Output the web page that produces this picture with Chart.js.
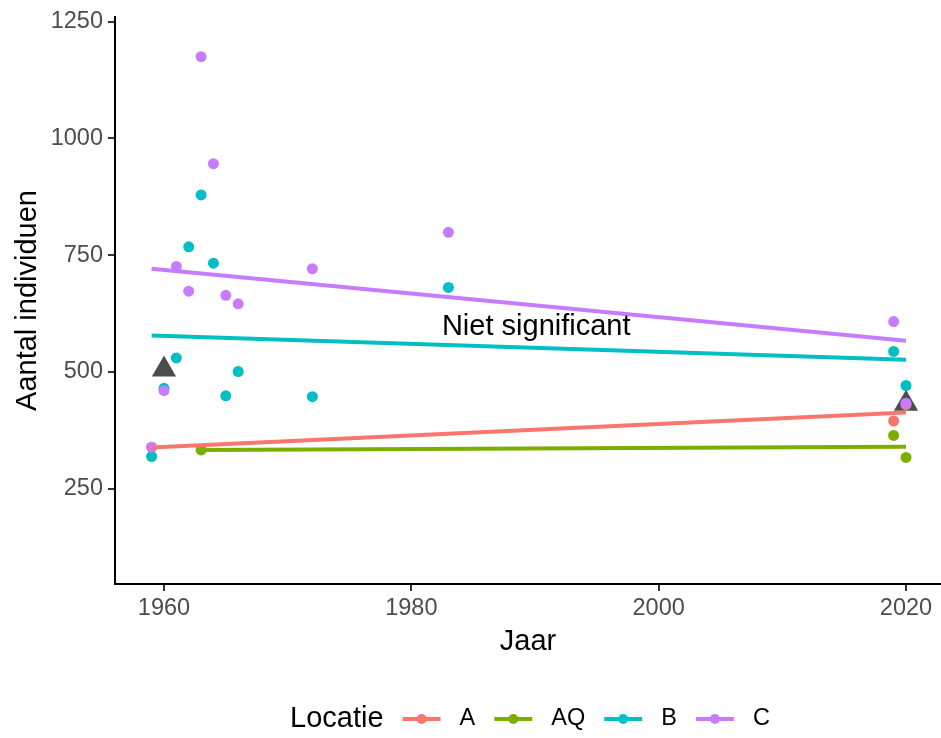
<!DOCTYPE html>
<html>
<head>
<meta charset="utf-8">
<script src="https://cdn.jsdelivr.net/npm/chart.js@4.4.1/dist/chart.umd.min.js"></script>
<style>
  html, body { margin: 0; padding: 0; background: #fff; overflow: hidden; }
  #wrap { width: 941px; height: 738px; position: relative; }
</style>
</head>
<body>
<div id="wrap"><canvas id="c"></canvas></div>
<script>
// Aantal individuen per locatie, 1959-2020, with linear trends per locatie.
const FONT = "'Liberation Sans', Arial, sans-serif";

const seriesNames = ["A", "AQ", "B", "C"];
const seriesColors = ["#F8766D", "#7CAE00", "#00BFC4", "#C77CFF"];

const yearsA = [1959, 2019, 2020];
const countsA = [339, 395, 430];
const yearsAQ = [1963, 2019, 2020];
const countsAQ = [333, 364, 317];
const yearsB = [1959, 1960, 1961, 1962, 1963, 1964, 1965, 1966, 1972, 1983, 2019, 2020];
const countsB = [319, 465, 530, 768, 879, 733, 449, 501, 447, 681, 544, 471];
const yearsC = [1959, 1960, 1961, 1962, 1963, 1964, 1965, 1966, 1972, 1983, 2019, 2020];
const countsC = [339, 460, 726, 673, 1175, 946, 664, 646, 721, 799, 608, 433];

// trend line ends (start, end)
const trendYears = [[1959, 2020], [1963, 2020], [1959, 2020], [1959, 2020]];
const trendValues = [[338, 413], [333, 340], [578, 526], [721, 567]];

// grey triangles
const meanYears = [1960, 2020];
const meanValues = [505, 432];

const xTicks = [1960, 1980, 2000, 2020];
const yTicks = [250, 500, 750, 1000, 1250];
const noteText = "Niet significant";
const noteYear = 1990.1;
const noteValue = 596;

const allYears = [yearsA, yearsAQ, yearsB, yearsC];
const allCounts = [countsA, countsAQ, countsB, countsC];
const pts = (xs, ys) => xs.map((x, i) => ({ x, y: ys[i] }));

const datasets = [];
datasets.push({
  label: "gemiddelde",
  data: pts(meanYears, meanValues),
  pointStyle: "triangle",
  pointRadius: 14,
  pointBackgroundColor: "#4D4D4D",
  pointBorderWidth: 0,
  order: 30,
  clip: false,
});
seriesNames.forEach((name, i) => {
  datasets.push({
    label: name,
    data: pts(allYears[i], allCounts[i]),
    pointRadius: 5.5,
    pointBackgroundColor: seriesColors[i],
    pointBorderWidth: 0,
    order: 20 - i,
    clip: false,
  });
  datasets.push({
    label: name + " trend",
    data: pts(trendYears[i], trendValues[i]),
    showLine: true,
    borderColor: seriesColors[i],
    borderWidth: 4,
    pointRadius: 0,
    order: 10 - i,
    clip: false,
  });
});

const notePlugin = {
  id: "note",
  afterDatasetsDraw(chart) {
    const { ctx, scales } = chart;
    ctx.save();
    ctx.font = `29px ${FONT}`;
    ctx.fillStyle = "#000";
    ctx.textAlign = "center";
    ctx.textBaseline = "middle";
    ctx.fillText(noteText, scales.x.getPixelForValue(noteYear), scales.y.getPixelForValue(noteValue));
    ctx.restore();
  },
};

// ggplot-style legend: title on the left, keys in one row
const legendPlugin = {
  id: "ggLegend",
  afterDraw(chart) {
    const { ctx } = chart;
    const yMid = 719;
    const keyW = 38, gap = 19;
    ctx.save();
    ctx.textBaseline = "middle";
    ctx.font = `29px ${FONT}`;
    const titleW = ctx.measureText("Locatie").width;
    ctx.font = `23.5px ${FONT}`;
    const labelWs = seriesNames.map((n) => ctx.measureText(n).width);
    let total = titleW;
    labelWs.forEach((w) => { total += gap + keyW + gap + w; });
    let x = 530 - total / 2;
    ctx.fillStyle = "#000";
    ctx.font = `29px ${FONT}`;
    ctx.fillText("Locatie", x, yMid);
    x += titleW;
    ctx.font = `23.5px ${FONT}`;
    seriesNames.forEach((n, i) => {
      x += gap;
      ctx.strokeStyle = seriesColors[i];
      ctx.lineWidth = 4;
      ctx.beginPath();
      ctx.moveTo(x, yMid);
      ctx.lineTo(x + keyW, yMid);
      ctx.stroke();
      ctx.fillStyle = seriesColors[i];
      ctx.beginPath();
      ctx.arc(x + keyW / 2, yMid, 5, 0, Math.PI * 2);
      ctx.fill();
      x += keyW + gap;
      ctx.fillStyle = "#000";
      ctx.fillText(n, x, yMid);
      x += labelWs[i];
    });
    ctx.restore();
  },
};

new Chart(document.getElementById("c"), {
  type: "scatter",
  data: { datasets },
  plugins: [notePlugin, legendPlugin],
  options: {
    responsive: true,
    maintainAspectRatio: false,
    animation: false,
    devicePixelRatio: 1,
    layout: { autoPadding: false, padding: { left: 0, right: 0, top: 17, bottom: 74 } },
    plugins: { legend: { display: false }, tooltip: { enabled: false } },
    scales: {
      x: {
        type: "linear",
        min: 1956.04,
        max: 2022.83,
        afterBuildTicks: (s) => { s.ticks = xTicks.map((v) => ({ value: v })); },
        afterFit: (s) => { s.height = 80; s.paddingLeft = 0; s.paddingRight = 0; },
        grid: { display: true, drawOnChartArea: false, drawTicks: true, tickLength: 7, color: "#333", lineWidth: 2 },
        border: { display: true, color: "#000", width: 2 },
        ticks: { color: "#4D4D4D", font: { family: FONT, size: 23.5 }, padding: 3, maxRotation: 0, callback: (v) => String(v) },
        title: { display: true, text: "Jaar", color: "#000", font: { family: FONT, size: 29 }, padding: { top: 0, bottom: 4.6 } },
      },
      y: {
        type: "linear",
        min: 46,
        max: 1260,
        afterBuildTicks: (s) => { s.ticks = yTicks.map((v) => ({ value: v })); },
        afterFit: (s) => { s.width = 115; s.paddingTop = 0; s.paddingBottom = 0; },
        grid: { display: true, drawOnChartArea: false, drawTicks: true, tickLength: 7, color: "#333", lineWidth: 2 },
        border: { display: true, color: "#000", width: 2 },
        ticks: { color: "#4D4D4D", font: { family: FONT, size: 23.5 }, padding: 5, callback: (v) => String(v) },
        title: { display: true, text: "Aantal individuen", color: "#000", font: { family: FONT, size: 29 }, padding: { top: 11, bottom: 0 } },
      },
    },
  },
});
</script>
</body>
</html>
